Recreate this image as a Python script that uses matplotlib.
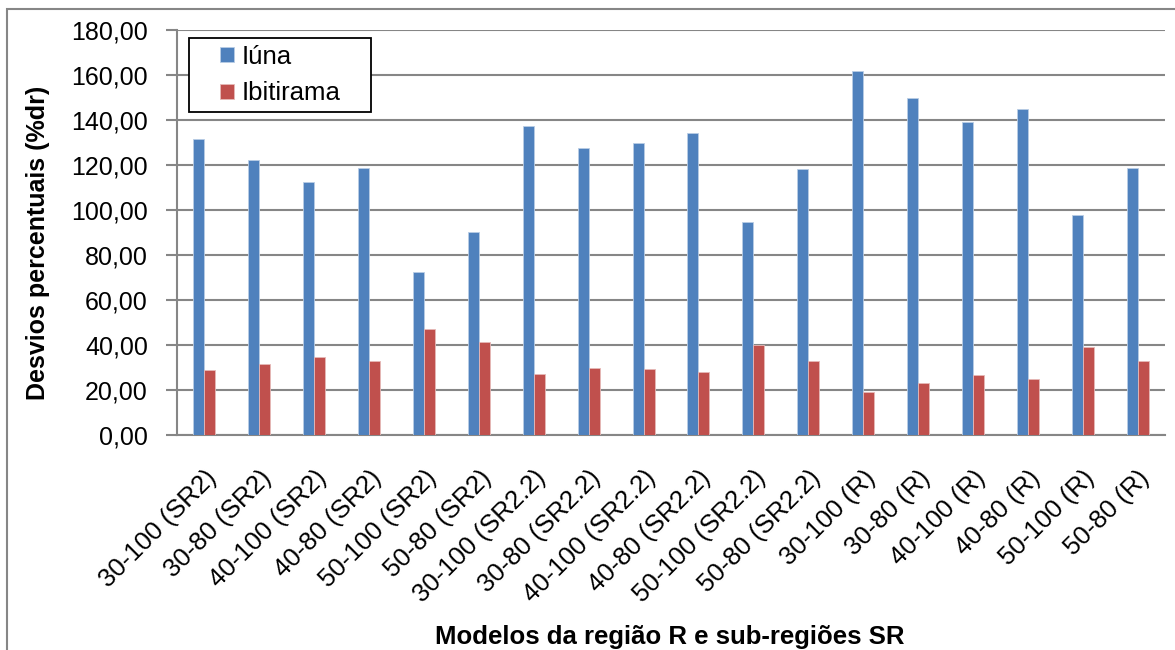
import numpy as np
import matplotlib.pyplot as plt
from matplotlib.patches import Rectangle

plt.rcParams['font.family'] = ['Liberation Sans', 'DejaVu Sans']

modelos = ['30-100 (SR2)', '30-80 (SR2)', '40-100 (SR2)', '40-80 (SR2)',
           '50-100 (SR2)', '50-80 (SR2)', '30-100 (SR2.2)', '30-80 (SR2.2)',
           '40-100 (SR2.2)', '40-80 (SR2.2)', '50-100 (SR2.2)', '50-80 (SR2.2)',
           '30-100 (R)', '30-80 (R)', '40-100 (R)', '40-80 (R)',
           '50-100 (R)', '50-80 (R)']
iuna = [131.4, 122.2, 112.6, 118.5, 72.3, 90.1, 137.2, 127.4, 129.9,
        134.4, 94.8, 118.2, 161.8, 149.9, 139.0, 144.7, 97.8, 118.5]
ibitirama = [28.7, 31.6, 34.7, 32.7, 47.0, 41.3, 27.0, 29.8, 29.2,
             27.9, 40.0, 32.7, 19.3, 23.1, 26.5, 24.7, 39.1, 32.7]

grey = '#868686'
W, H = 1175, 650
fig = plt.figure(figsize=(W / 100, H / 100), dpi=100)
ax = fig.add_axes([0.1506, 0.3308, 0.8409, 0.623])

x = np.arange(len(modelos))
w = 0.2
ax.bar(x - w / 2, iuna, w, color='#4F81BD', edgecolor='#B9CDE5', linewidth=0.6, label='Iúna', zorder=3)
ax.bar(x + w / 2, ibitirama, w, color='#C0504D', edgecolor='#E6B9B8', linewidth=0.6, label='Ibitirama', zorder=3)

ax.set_xlim(-0.5, len(modelos) - 0.5)
ax.set_ylim(0, 180)
yt = np.arange(0, 181, 20)
ax.set_yticks(yt)
ax.set_yticklabels([('%.2f' % v).replace('.', ',') for v in yt])
ax.yaxis.grid(True, color=grey, linewidth=1.5, zorder=0)
ax.set_axisbelow(True)

for s in ['top', 'right']:
    ax.spines[s].set_visible(False)
for s in ['left', 'bottom']:
    ax.spines[s].set_color(grey)
    ax.spines[s].set_linewidth(1.5)

ax.tick_params(axis='y', length=8, width=1.5, color=grey, labelsize=18, pad=13)
ax.tick_params(axis='x', length=0, labelsize=18.5, pad=22)
ax.set_xticks(x)
ax.set_xticklabels(modelos, rotation=45, ha='right', rotation_mode='anchor')

fig.text(0.032, 0.627, 'Desvios percentuais (%dr)', fontsize=18, fontweight='bold',
         rotation=90, ha='center', va='center')
fig.text(0.57, 0.02, 'Modelos da região R e sub-regiões SR', fontsize=18.5,
         fontweight='bold', ha='center', va='center')

# legend box drawn separately (wider padding than matplotlib's default)
fig.patches.append(Rectangle((189 / W, 1 - 112 / H), 182 / W, 74 / H,
                             transform=fig.transFigure, facecolor='white',
                             edgecolor='black', linewidth=1.3, zorder=4))
h, l = ax.get_legend_handles_labels()
leg = fig.legend(h, l, loc='center', bbox_to_anchor=(280 / W, 1 - 75 / H),
                 fontsize=18.5, frameon=False,
                 handlelength=0.55, handleheight=0.55, handletextpad=0.3,
                 borderpad=0, labelspacing=0.5)
leg.set_zorder(5)

fig.patches.append(Rectangle((7 / W, -0.1), 1.1, 1.1 - 9 / H,
                             transform=fig.transFigure, fill=False,
                             edgecolor=grey, linewidth=1.5))

fig.savefig('out.png', dpi=100)
